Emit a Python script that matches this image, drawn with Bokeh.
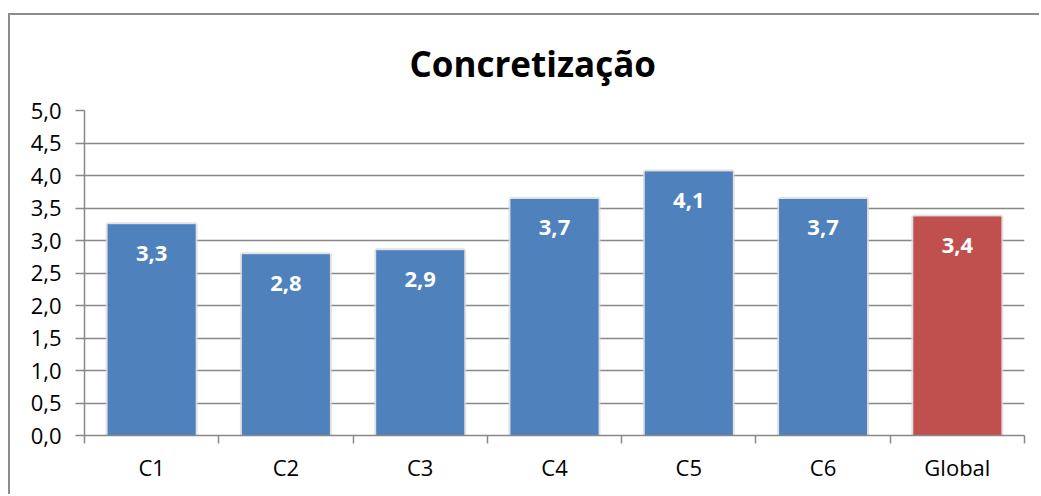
from bokeh.plotting import figure
from bokeh.models import FixedTicker, ColumnDataSource
from bokeh.core.properties import value
from bokeh.embed import file_html
from bokeh.resources import INLINE

categories = ["C1", "C2", "C3", "C4", "C5", "C6", "Global"]
values = [3.25, 2.79, 2.85, 3.64, 4.06, 3.64, 3.37]
value_labels = ["3,3", "2,8", "2,9", "3,7", "4,1", "3,7", "3,4"]
colors = ["#4f81bd"] * 6 + ["#c0504d"]
y_ticks = [0.0, 0.5, 1.0, 1.5, 2.0, 2.5, 3.0, 3.5, 4.0, 4.5, 5.0]
title_text = "Concretização"

FONT = "Open Sans"
GRID = "#888888"

xs = [i + 0.5 for i in range(len(categories))]
src = ColumnDataSource(dict(x=xs, top=values, lab=value_labels, color=colors))

p = figure(width=1031, height=481, x_range=(0, len(categories)), y_range=(0, 5),
           output_backend="svg", toolbar_location=None,
           min_border_left=74, min_border_right=17, min_border_top=95, min_border_bottom=61)
p.styles = {"border-left": "2px solid #8c8c8c", "border-top": "2px solid #8c8c8c",
            "margin-top": "13px", "margin-left": "8px"}
p.outline_line_color = None
p.background_fill_color = "white"
p.border_fill_color = "white"

p.title.text = title_text
p.title.text_font = FONT
p.title.text_font_size = "35px"
p.title.text_font_style = "bold"
p.title.align = "left"
p.title.offset = 325
p.title.standoff = 44
p.title.vertical_align = "top"
p.title.text_color = "black"

# bars with faint glow
p.vbar(x="x", top="top", width=0.655, bottom=0, source=src, fill_color="color",
       line_color="#d9d9d9", line_width=4, line_alpha=0.8)
p.vbar(x="x", top="top", width=0.655, bottom=0, source=src, fill_color="color",
       line_color=None)

p.text(x="x", y="top", text="lab", source=src, text_color="white",
       text_font=value(FONT), text_font_size="22px", text_font_style="bold",
       text_align="center", text_baseline="middle", y_offset=29)

# y axis
p.yaxis.ticker = FixedTicker(ticks=y_ticks)
p.yaxis.major_label_overrides = {t: f"{t:.1f}".replace(".", ",") for t in y_ticks}
p.yaxis.major_label_text_font = FONT
p.yaxis.major_label_text_font_size = "22px"
p.yaxis.major_label_text_color = "black"
p.yaxis.major_label_standoff = 14
p.yaxis.major_tick_out = 9
p.yaxis.major_tick_in = 0
p.yaxis.minor_tick_line_color = None
p.yaxis.axis_line_color = GRID
p.yaxis.major_tick_line_color = GRID
p.yaxis.axis_line_width = 1.5
p.yaxis.major_tick_line_width = 1.5

# x axis
p.xaxis.ticker = FixedTicker(ticks=xs, minor_ticks=list(range(len(categories) + 1)))
p.xaxis.major_label_overrides = {x: c for x, c in zip(xs, categories)}
p.xaxis.major_label_text_font = FONT
p.xaxis.major_label_text_font_size = "22px"
p.xaxis.major_label_text_color = "black"
p.xaxis.major_label_standoff = 8
p.xaxis.major_tick_line_color = None
p.xaxis.minor_tick_out = 8
p.xaxis.minor_tick_in = 0
p.xaxis.minor_tick_line_color = GRID
p.xaxis.minor_tick_line_width = 1.5
p.xaxis.axis_line_color = GRID
p.xaxis.axis_line_width = 1.5

p.xgrid.grid_line_color = None
p.ygrid.grid_line_color = GRID
p.ygrid.grid_line_width = 1.5
p.ygrid.level = "underlay"

open("out.html", "w").write(file_html(p, INLINE))
